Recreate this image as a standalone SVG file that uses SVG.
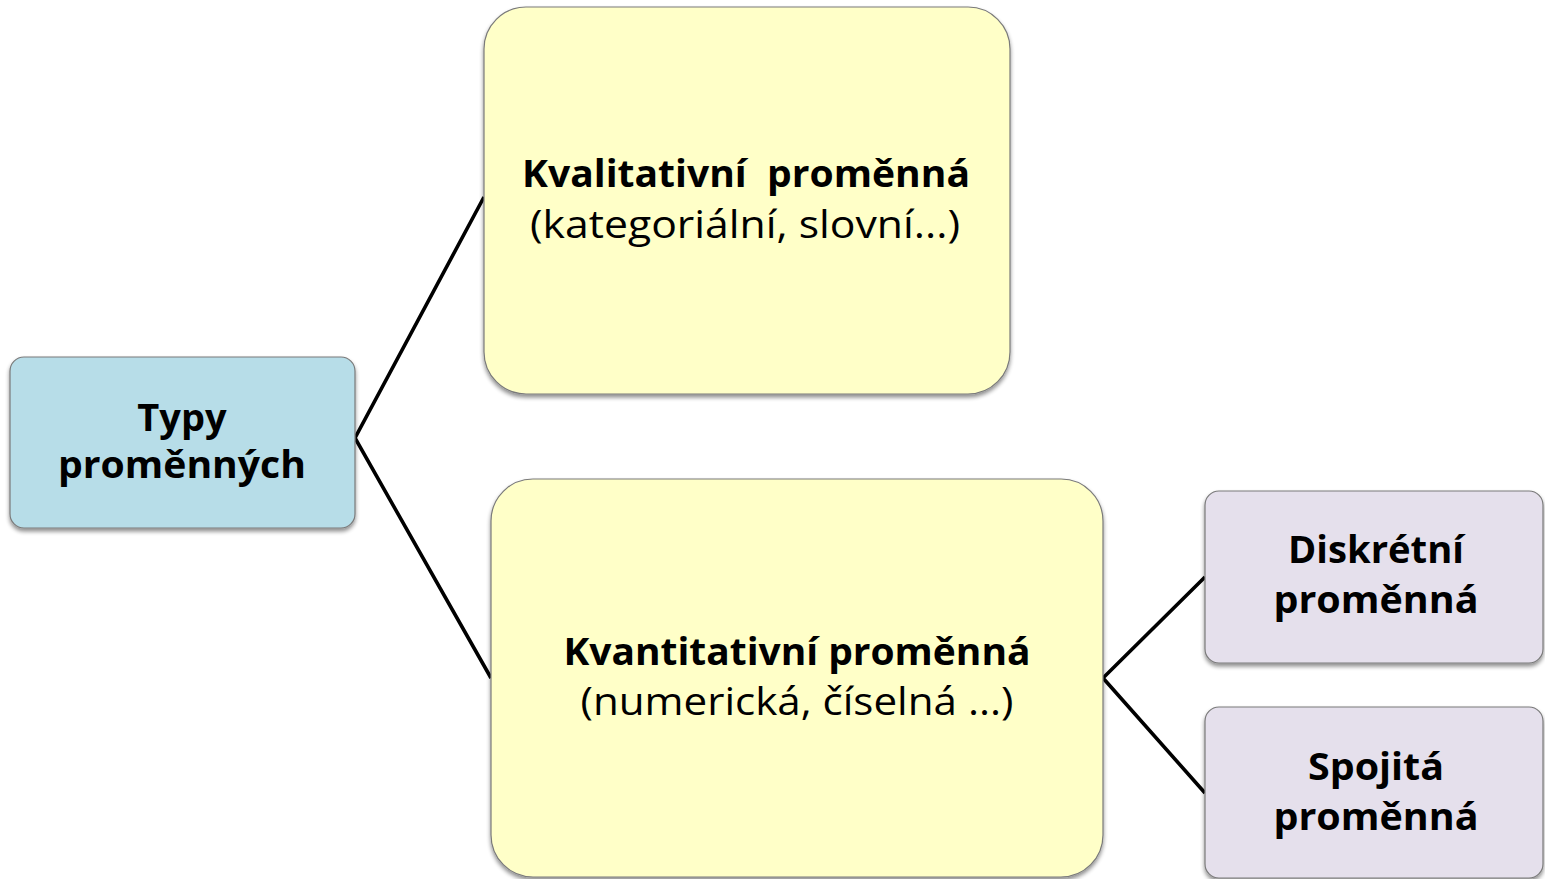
<svg xmlns="http://www.w3.org/2000/svg" width="1545" height="879" viewBox="0 0 1545 879">
  <style>
    .box { stroke: #7a7a7a; stroke-width: 1.2; filter: url(#shadow); }
    .root { fill: #b7dde8; }
    .main { fill: #ffffc8; }
    .leaf { fill: #e5e0ec; }
    text { font-family: "Open Sans", "Liberation Sans", sans-serif; fill: #000; text-anchor: middle; }
    .b { font-weight: bold; font-size: 38px; }
    .r { font-size: 38px; }
    .conn { stroke: #000; stroke-width: 3.6; fill: none; }
  </style>
  <defs>
    <filter id="shadow" x="-10%" y="-10%" width="120%" height="125%">
      <feGaussianBlur in="SourceAlpha" stdDeviation="2"/>
      <feOffset dx="0" dy="3" result="o"/>
      <feComponentTransfer><feFuncA type="linear" slope="0.45"/></feComponentTransfer>
      <feMerge><feMergeNode/><feMergeNode in="SourceGraphic"/></feMerge>
    </filter>
  </defs>
  <rect width="1545" height="879" fill="#fff"/>

  <g id="connectors">
    <polyline class="conn" points="484,197 355,438 491,678"/>
    <polyline class="conn" points="1205,577 1103,678 1205,793"/>
  </g>

  <g id="typy">
    <rect class="box root" x="10" y="357" width="345" height="171" rx="14"/>
    <text class="b" x="182" y="431">Typy</text>
    <text class="b" x="182" y="478" textLength="248" lengthAdjust="spacingAndGlyphs">proměnných</text>
  </g>

  <g id="kvalitativni">
    <rect class="box main" x="484" y="7" width="526" height="387" rx="42"/>
    <text class="b" x="746" y="187" textLength="448" lengthAdjust="spacingAndGlyphs" xml:space="preserve">Kvalitativní  proměnná</text>
    <text class="r" x="745" y="238" textLength="430" lengthAdjust="spacingAndGlyphs">(kategoriální, slovní...)</text>
  </g>

  <g id="kvantitativni">
    <rect class="box main" x="491" y="479" width="612" height="398" rx="42"/>
    <text class="b" x="797" y="665" textLength="467" lengthAdjust="spacingAndGlyphs">Kvantitativní proměnná</text>
    <text class="r" x="797" y="715" textLength="433" lengthAdjust="spacingAndGlyphs">(numerická, číselná ...)</text>
  </g>

  <g id="diskretni">
    <rect class="box leaf" x="1205" y="491" width="338" height="172" rx="14"/>
    <text class="b" x="1376" y="563" textLength="176" lengthAdjust="spacingAndGlyphs">Diskrétní</text>
    <text class="b" x="1376" y="613" textLength="205" lengthAdjust="spacingAndGlyphs">proměnná</text>
  </g>

  <g id="spojita">
    <rect class="box leaf" x="1205" y="707" width="338" height="171" rx="14"/>
    <text class="b" x="1376" y="780" textLength="136" lengthAdjust="spacingAndGlyphs">Spojitá</text>
    <text class="b" x="1376" y="830" textLength="205" lengthAdjust="spacingAndGlyphs">proměnná</text>
  </g>
</svg>
